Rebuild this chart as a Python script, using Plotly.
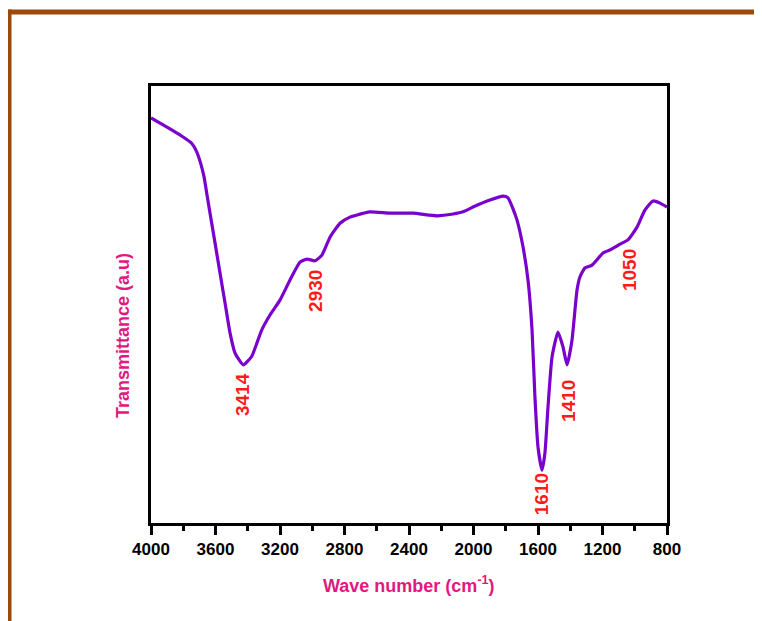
import plotly.graph_objects as go

wavenumber = [4000, 3882, 3820, 3748, 3717, 3692, 3671, 3651, 3624, 3603, 3572, 3541, 3510, 3479, 3428,
              3376, 3313, 3262, 3200, 3138, 3076, 3033, 2983, 2940, 2890, 2828, 2766, 2722, 2642,
              2518, 2375, 2226, 2127, 2065, 2003, 1898, 1817, 1786, 1755, 1730, 1693, 1662, 1637,
              1619, 1600, 1575, 1557, 1538, 1513, 1476, 1445, 1420, 1389, 1358, 1340, 1308, 1265,
              1197, 1153, 1091, 1042, 986, 937, 887, 843, 800]
transmittance = [92.7, 90.2, 88.8, 86.9, 85.0, 82.3, 79.2, 74.7, 68.7, 64.1, 57.2, 50.4, 43.5, 38.9, 36.2,
                 38.1, 44.2, 47.6, 51.0, 55.6, 59.7, 60.4, 60.0, 61.3, 65.4, 68.6, 70.0, 70.5, 71.2,
                 70.9, 70.9, 70.3, 70.7, 71.2, 72.3, 73.9, 74.8, 74.4, 71.9, 69.3, 63.2, 55.6, 44.2,
                 28.8, 17.4, 12.1, 16.0, 26.5, 38.0, 43.7, 40.3, 36.2, 41.9, 53.3, 56.3, 58.4, 59.0,
                 61.8, 62.5, 63.8, 64.8, 67.7, 71.6, 73.7, 73.2, 72.3]

peak_labels = ["3414", "2930", "1610", "1410", "1050"]
peak_x = [3429, 2977, 1581, 1414, 1029]
peak_y = [29.3, 53.1, 6.6, 27.9, 57.9]

tick_vals = [4000, 3600, 3200, 2800, 2400, 2000, 1600, 1200, 800]

fig = go.Figure()
fig.add_trace(go.Scatter(x=wavenumber, y=transmittance, mode="lines",
                         line=dict(color="#7A00CC", width=3.2, shape="spline", smoothing=0.5),
                         hoverinfo="skip", showlegend=False))

for t, xv, yv in zip(peak_labels, peak_x, peak_y):
    fig.add_annotation(x=xv, y=yv, xref="x", yref="y", text=t, textangle=-90, showarrow=False,
                       xanchor="center", yanchor="middle",
                       font=dict(family="Liberation Sans, Arial", size=19, color="#FF1A1A",
                                 weight="bold"))

pink = "#E3177F"
fig.add_annotation(x=0.5, y=-0.1396, xref="paper", yref="paper", xanchor="center", yanchor="middle",
                   text="Wave number (cm<sup>-1</sup>)", showarrow=False,
                   font=dict(family="Liberation Sans, Arial", size=18, color=pink, weight="bold"))
fig.add_annotation(x=-0.0543, y=0.43, xref="paper", yref="paper", xanchor="center", yanchor="middle",
                   text="Transmittance (a.u)", textangle=-90, showarrow=False,
                   font=dict(family="Liberation Sans, Arial", size=18, color=pink, weight="bold"))

brown = "#9B4A0C"
fig.add_shape(type="line", xref="paper", yref="paper", x0=-0.28, x1=1.2, y0=1.1693, y1=1.1693,
              line=dict(color=brown, width=5))
fig.add_shape(type="line", xref="paper", yref="paper", x0=-0.2742, x1=-0.2742, y0=1.175, y1=-0.25,
              line=dict(color=brown, width=4))

fig.update_xaxes(range=[4000, 800], tickvals=tick_vals, ticks="outside", ticklen=9, tickwidth=2.5,
                 tickcolor="black", showline=True, linewidth=3, linecolor="black", mirror=True,
                 showgrid=False, zeroline=False,
                 minor=dict(dtick=200, ticks="outside", ticklen=5, tickwidth=2.5, tickcolor="black"),
                 tickfont=dict(family="Liberation Sans, Arial", size=17, color="black", weight="bold"))
fig.update_yaxes(range=[0, 100], showticklabels=False, ticks="", showline=True, linewidth=3,
                 linecolor="black", mirror=True, showgrid=False, zeroline=False)

fig.update_layout(width=754, height=613, margin=dict(l=143, r=95, t=78, b=98),
                  plot_bgcolor="white", paper_bgcolor="white")

fig.write_html("out.html")
